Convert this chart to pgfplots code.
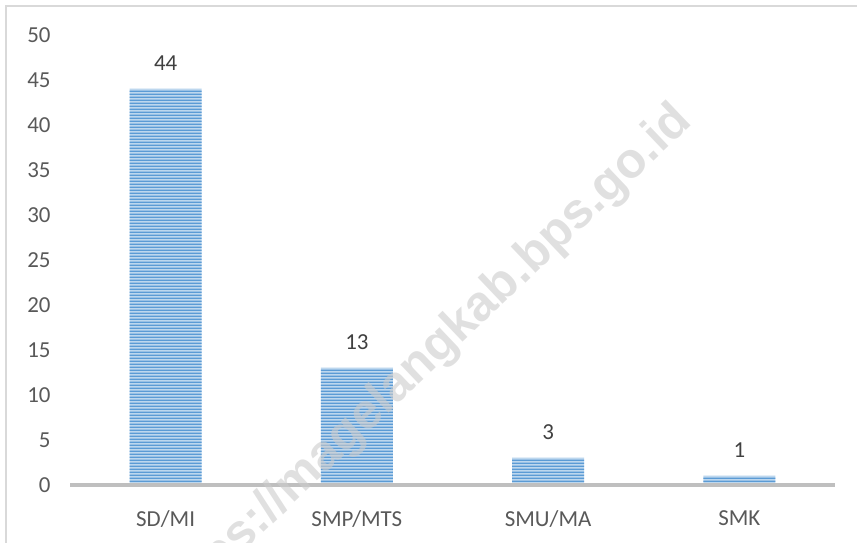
\documentclass[border=0pt]{standalone}
\usepackage{pgfplots}
\pgfplotsset{compat=1.18}
\usepackage{fontspec}
\setmainfont{Carlito}
\newfontfamily\wmfont{Liberation Sans}
\usetikzlibrary{patterns}
\definecolor{barblue}{HTML}{5B9BD5}
\definecolor{barlight}{HTML}{BDD7EE}
\definecolor{ticktext}{HTML}{595959}
\definecolor{axisgray}{HTML}{BFBFBF}
\pgfdeclarepatternformonly{hstripes}{\pgfpointorigin}{\pgfqpoint{1bp}{3.1bp}}{\pgfqpoint{1bp}{3.1bp}}{%
  \pgfpathrectangle{\pgfpointorigin}{\pgfqpoint{1.1bp}{1.8bp}}\pgfusepath{fill}}
\begin{document}
\begin{tikzpicture}
\draw[color=black!15, line width=1.5bp] (6bp,-5bp) -- (6bp,537bp) -- (870bp,537bp);
\begin{axis}[
  at={(70bp,58bp)}, anchor=south west,
  scale only axis, width=765bp, height=450bp,
  xmin=-0.5, xmax=3.5, ymin=0, ymax=50,
  axis line style={draw=none},
  xtick=data, xticklabels={SD/MI, SMP/MTS, SMU/MA, SMK},
  ytick={0,5,...,50},
  tick style={draw=none},
  tick label style={text=ticktext, font=\fontsize{23}{26}\selectfont},
  /pgf/number format/assume math mode=true,
  yticklabel style={anchor=east, xshift=-16bp},
  xticklabel style={anchor=north, yshift=-18bp},
  ybar, bar width=72bp,
  nodes near coords,
  every node near coord/.append style={text=black!75, font=\fontsize{23}{26}\selectfont, anchor=south, inner sep=0pt, yshift=18bp},
  clip=false,
]
\addplot[draw=none, fill=barlight, postaction={pattern=hstripes, pattern color=barblue}] coordinates {(0,44) (1,13) (2,3) (3,1)};
\draw[axisgray, line width=3bp] (axis cs:-0.5,0) -- (axis cs:3.5,0);
\end{axis}
\node[rotate=43.6, text=black!20, opacity=0.6, font=\wmfont\bfseries\fontsize{50}{50}\selectfont] at (424bp,181bp) {https://magelangkab.bps.go.id};
\pgfresetboundingbox
\useasboundingbox (0,0) rectangle (857bp,543bp);
\end{tikzpicture}
\end{document}
